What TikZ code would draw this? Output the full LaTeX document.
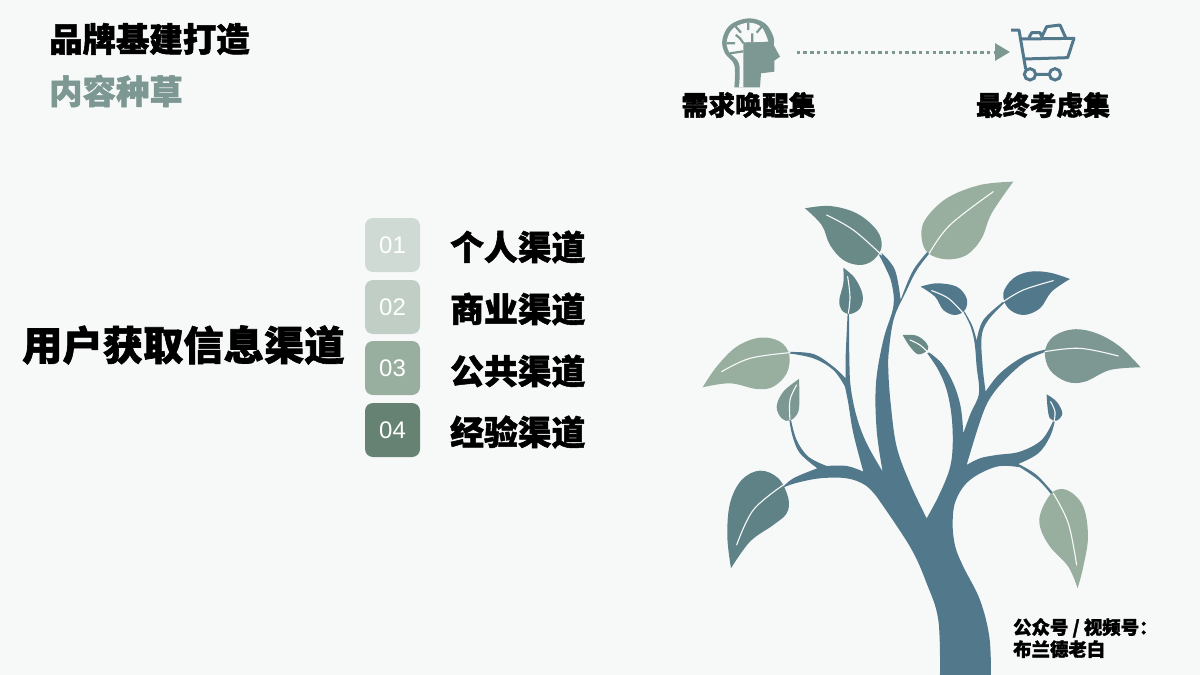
\documentclass[tikz,border=0pt]{standalone}
\usepackage{fontspec}
\setsansfont{Liberation Sans}
\newfontfamily\cjk{Noto Sans CJK SC}[BoldFeatures={FakeBold=1.6}]
\usetikzlibrary{arrows.meta}
\definecolor{pagebg}{HTML}{F7F9F9}
\definecolor{deepblue}{HTML}{52788C}
\definecolor{midblue}{HTML}{5F8287}
\definecolor{midgreen}{HTML}{6A8A88}
\definecolor{sage}{HTML}{7D9892}
\definecolor{palesage}{HTML}{98AFA0}
\begin{document}
\begin{tikzpicture}[x=1pt,y=-1pt]
\tikzstyle{every node}+=[inner sep=0pt]
\tikzstyle{head}=[font=\cjk\bfseries\fontsize{33.4}{33.4}\selectfont,black]
\tikzstyle{channel}=[font=\cjk\bfseries\fontsize{33.8}{33.8}\selectfont,black]
\tikzstyle{iconlabel}=[font=\cjk\bfseries\fontsize{26.8}{26.8}\selectfont,black]
\tikzstyle{numbox}=[minimum width=55pt,minimum height=54pt,rounded corners=8pt,text=white,font=\sffamily\fontsize{24}{24}\selectfont]
\tikzstyle{vein}=[draw=pagebg,line width=1.1pt,line cap=round]
\tikzstyle{sm}=[smooth,tension=0.6]
\fill[pagebg] (0,0) rectangle (1200,675);
\node[head,anchor=west] (brandtitle) at (49,39) {品牌基建打造};
\node[head,anchor=west,text=sage] (contenttitle) at (49,91) {内容种草};
\node[font=\cjk\bfseries\fontsize{40.3}{40.3}\selectfont,anchor=west] (sourcetitle) at (22,345) {用户获取信息渠道};
\node[numbox,fill=palesage!42!pagebg] (box1) at (392.5,245) {\raisebox{-2pt}{01}};
\node[numbox,fill=palesage!58!pagebg] (box2) at (392.5,307) {\raisebox{-3pt}{02}};
\node[numbox,fill=palesage] (box3) at (392.5,368) {\raisebox{-3pt}{03}};
\node[numbox,fill={rgb,255:red,102;green,130;blue,114}] (box4) at (392.5,430) {\raisebox{-2pt}{04}};
\node[channel,anchor=west] (chan1) at (450,247) {个人渠道};
\node[channel,anchor=west] (chan2) at (450,309) {商业渠道};
\node[channel,anchor=west] (chan3) at (450,371) {公共渠道};
\node[channel,anchor=west] (chan4) at (450,432) {经验渠道};
\node[iconlabel] (wakelabel) at (748.5,105) {需求唤醒集};
\node[iconlabel] (finallabel) at (1043,105) {最终考虑集};
\node[font=\cjk\bfseries\fontsize{18.4}{22}\selectfont,anchor=north west,align=left] (credit) at (1013,618) {公众号 / 视频号：\\布兰德老白};
\coordinate (brainend) at (796.5,52);
\coordinate (cartend) at (1010,52);
\draw[sage,line width=3pt,dash pattern=on 3.4pt off 3.4pt,-{Triangle[length=15pt,width=17pt,sep=0pt]}] (brainend) -- (cartend);
% head icon
\begin{scope}[shift={(715,10)},x=0.3333pt,y=-0.3333pt]
\fill[sage] plot[sm] coordinates {(58,232) (58,165) (30,130) (22,90) (45,45) (100,25) (150,40) (175,80) (176,105)}
 -- (195,140) -- (178,152) -- (178,185) -- (138,190) -- (135,232) -- cycle;
\fill[pagebg] plot[sm] coordinates {(72,232) (72,160) (42,125) (36,90) (55,55) (100,38) (140,52) (160,95)}
 -- (85,97) -- (85,232) -- cycle;
\draw[sage,line width=2.2pt] (100,38) -- (100,60) (62,50) -- (78,68) (140,50) -- (125,68) (36,100) -- (60,100) (45,130) -- (85,124) (112,70) -- (112,97);
\draw[sage,line width=2.2pt] plot[sm] coordinates {(62,75) (75,85) (85,100)};
\end{scope}
% cart icon
\begin{scope}[shift={(1005,15)},x=0.3333pt,y=-0.3333pt]
\draw[deepblue,line width=3pt,line join=round] (18,45) -- (42,45) -- (62,162);
\draw[deepblue,line width=3pt,line join=round] (50,72) -- (207,70) -- (188,128) -- (58,132);
\draw[deepblue,line width=3pt,line join=round] (72,68) -- (80,53) -- (105,53) -- (112,68) (112,62) -- (125,35) -- (165,30) -- (182,68);
\draw[deepblue,line width=3pt] (75,178) circle (17) (150,178) circle (17) (92,178) -- (133,178);
\end{scope}
% tree
\begin{scope}[shift={(680,170)},x=0.3333pt,y=-0.3333pt]
\fill[deepblue] plot[sm] coordinates {(780,1515) (775,1350) (740,1240) (690,1130) (590,980)}
 -- plot[sm] coordinates {(590,980) (555,945) (500,925) (420,925) (345,940) (305,955)}
 -- plot[sm] coordinates {(305,955) (340,925) (412,895)}
 -- plot[sm] coordinates {(412,895) (360,850) (338,800) (328,750)}
 -- plot[sm] coordinates {(333,750) (350,810) (385,860) (440,888)}
 -- plot[sm] coordinates {(440,888) (500,888) (550,905)}
 -- plot[sm] coordinates {(550,905) (520,790) (505,700) (495,650)}
 -- plot[sm] coordinates {(495,650) (460,600) (400,565) (325,550)}
 -- plot[sm] coordinates {(325,546) (400,552) (460,590) (497,625)}
 -- plot[sm] coordinates {(497,625) (497,560) (503,430)}
 -- plot[sm] coordinates {(507,430) (508,560) (512,650) (530,740) (560,820) (608,905)}
 -- plot[sm] coordinates {(608,905) (590,780) (588,640) (610,510) (640,410) (635,340) (615,290) (597,255)}
 -- plot[sm] coordinates {(606,250) (645,300) (662,390)}
 -- plot[sm] coordinates {(662,390) (700,300) (752,235)}
 -- plot[sm] coordinates {(757,240) (712,298) (678,365) (642,445) (627,540) (625,600) (632,700) (650,830) (690,940) (740,1045)}
 -- plot[sm] coordinates {(740,1045) (775,980) (808,900) (818,830) (815,740) (800,660) (775,600) (742,550)}
 -- plot[sm] coordinates {(745,546) (785,580) (820,640) (842,710) (850,790)}
 -- plot[sm] coordinates {(850,790) (872,730) (897,670) (890,590) (884,520) (872,470) (850,425)}
 -- plot[sm] coordinates {(854,425) (878,470) (890,512)}
 -- plot[sm] coordinates {(890,512) (910,450) (972,393)}
 -- plot[sm] coordinates {(975,397) (925,450) (905,500) (908,590) (917,665)}
 -- plot[sm] coordinates {(917,665) (960,610) (1030,560) (1100,538)}
 -- plot[sm] coordinates {(1100,544) (1040,572) (980,624) (930,685) (900,755) (860,885)}
 -- plot[sm] coordinates {(860,885) (900,865) (950,855) (1020,845) (1085,810) (1120,752)}
 -- plot[sm] coordinates {(1125,752) (1110,800) (1075,850) (1015,882)}
 -- plot[sm] coordinates {(1015,882) (1070,915) (1122,972)}
 -- plot[sm] coordinates {(1116,976) (1075,930) (1020,892)}
 -- plot[sm] coordinates {(1020,892) (950,890) (870,930) (828,990) (818,1060) (826,1130) (850,1190) (900,1290) (928,1400) (933,1515)}
 -- cycle;
\fill[palesage] plot[sm] coordinates {(1000,35) (900,45) (800,85) (735,150) (725,205) (745,250) (800,268) (860,255) (905,205) (935,130) (1000,35)} -- cycle;
\draw[vein] plot[sm] coordinates {(748,250) (810,165) (940,65)};
\fill[midgreen] plot[sm] coordinates {(375,115) (450,108) (530,130) (590,180) (605,230) (580,270) (540,285) (490,270) (450,225) (425,165) (375,115)} -- cycle;
\draw[vein] plot[sm] coordinates {(440,135) (520,180) (605,255)};
\fill[midblue] plot[sm] coordinates {(490,293) (525,325) (548,375) (540,415) (510,432) (485,420) (478,390) (490,340) (490,293)} -- cycle;
\draw[vein] plot[sm] coordinates {(503,320) (510,380) (505,430)};
\fill[palesage] plot[sm] coordinates {(68,652) (110,590) (170,530) (240,503) (300,515) (328,555) (320,610) (280,650) (230,657) (150,640) (68,652)} -- cycle;
\draw[vein] plot[sm] coordinates {(125,605) (210,565) (330,548)};
\fill[sage] plot[sm] coordinates {(357,627) (310,665) (290,710) (305,745) (330,752) (355,725) (358,670) (357,627)} -- cycle;
\draw[vein] plot[sm] coordinates {(350,645) (330,690) (330,750)};
\fill[midblue] plot[sm] coordinates {(153,1195) (142,1100) (150,1000) (185,930) (240,902) (295,925) (325,985) (320,1030) (280,1065) (210,1115) (153,1195)} -- cycle;
\draw[vein] plot[sm] coordinates {(170,1125) (220,1020) (310,945)};
\fill[palesage] plot[sm] coordinates {(1193,1255) (1210,1190) (1224,1100) (1210,1010) (1165,962) (1120,965) (1085,1020) (1080,1070) (1110,1130) (1165,1190) (1193,1255)} -- cycle;
\draw[vein] plot[sm] coordinates {(1120,970) (1165,1060) (1190,1185)};
\fill[sage] plot[sm] coordinates {(1382,592) (1320,530) (1250,490) (1180,478) (1120,500) (1095,545) (1110,600) (1160,635) (1215,635) (1290,600) (1382,592)} -- cycle;
\draw[vein] plot[sm] coordinates {(1095,545) (1200,535) (1315,558)};
\fill[deepblue] plot[sm] coordinates {(1170,327) (1110,308) (1050,305) (1000,325) (970,370) (985,415) (1030,435) (1080,415) (1115,365) (1170,327)} -- cycle;
\draw[vein] plot[sm] coordinates {(970,395) (1030,360) (1120,332)};
\fill[deepblue] plot[sm] coordinates {(722,350) (770,340) (830,350) (860,385) (855,420) (825,435) (790,420) (765,380) (722,350)} -- cycle;
\draw[vein] plot[sm] coordinates {(755,362) (805,385) (850,430)};
\fill[midgreen] plot[sm] coordinates {(668,495) (710,497) (740,520) (743,540) (715,553) (690,530) (668,495)} -- cycle;
\draw[vein] plot[sm] coordinates {(690,510) (720,525) (745,548)};
\fill[deepblue] plot[sm] coordinates {(1100,673) (1130,695) (1147,730) (1130,752) (1110,745) (1103,715) (1100,673)} -- cycle;
\draw[vein] plot[sm] coordinates {(1112,695) (1125,725) (1122,755)};
\end{scope}
\useasboundingbox (0,0) rectangle (1200,675);
\end{tikzpicture}
\end{document}
